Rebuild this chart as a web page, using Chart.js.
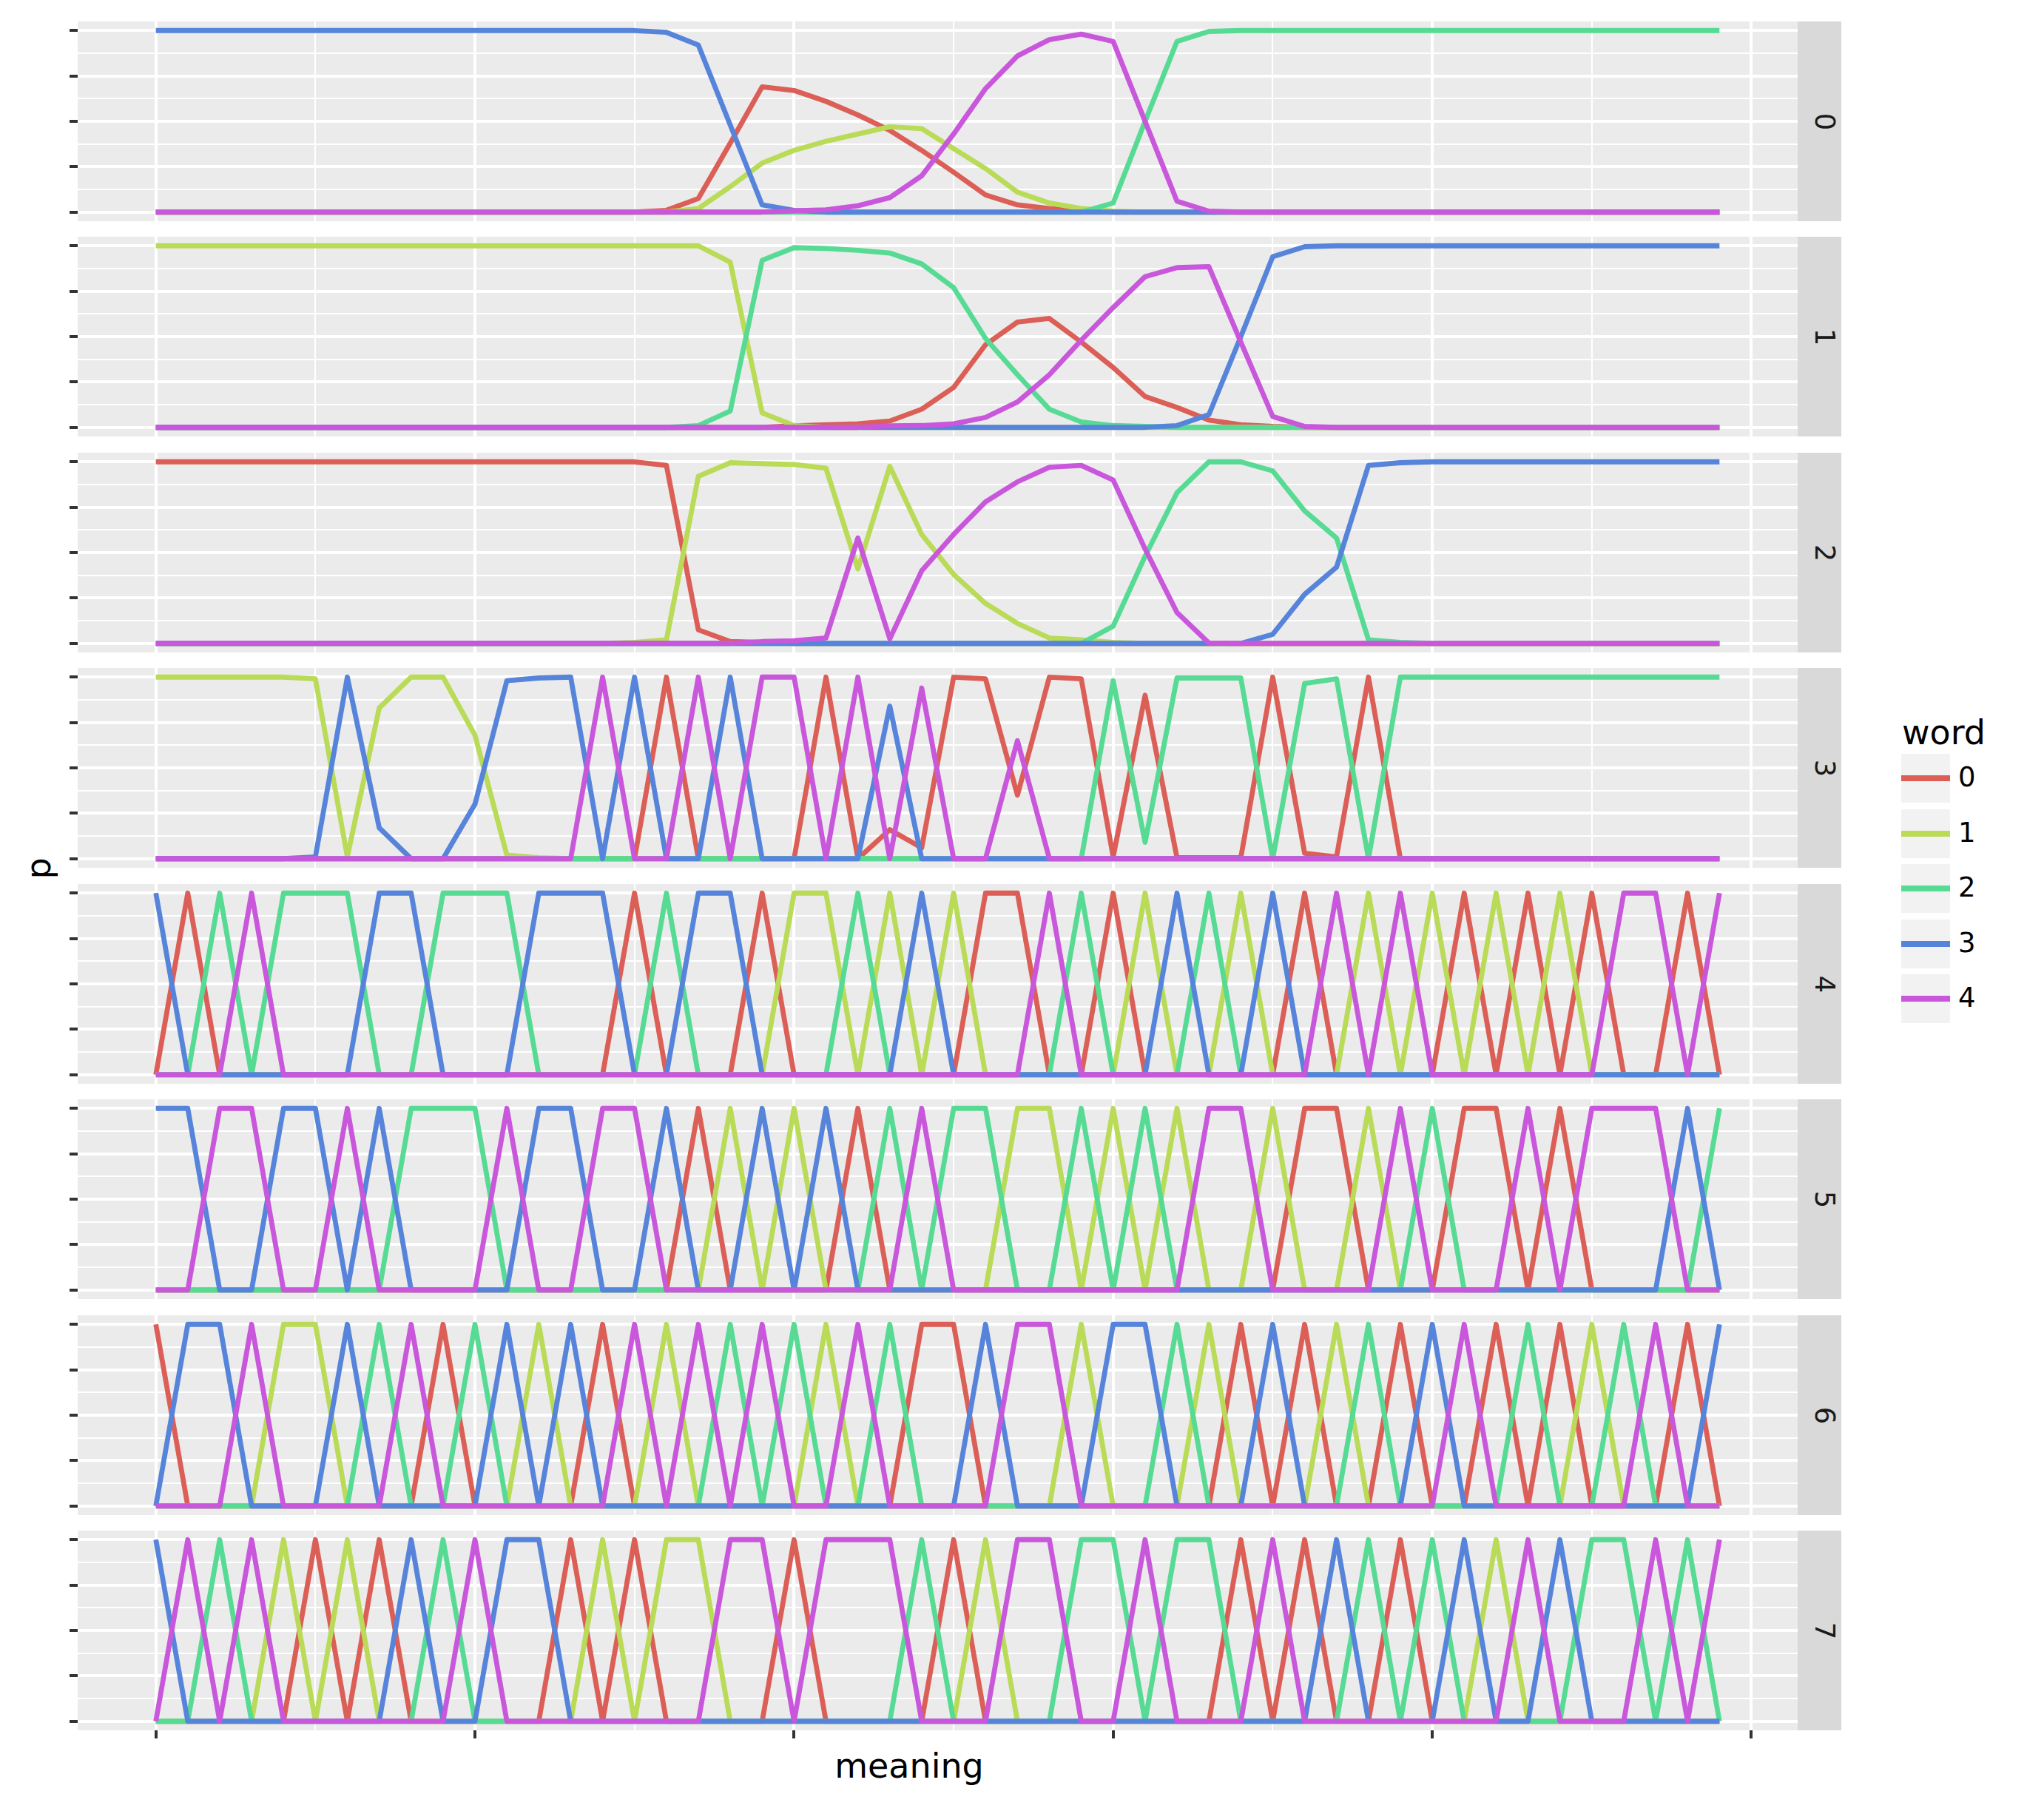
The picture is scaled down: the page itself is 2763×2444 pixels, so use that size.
<!DOCTYPE html>
<html>
<head>
<meta charset="utf-8">
<script src="https://cdn.jsdelivr.net/npm/chart.js@4.4.1/dist/chart.umd.min.js"></script>
<style>
html,body{margin:0;padding:0;background:#ffffff;}
body{width:2763px;height:2444px;position:relative;overflow:hidden;font-family:'DejaVu Sans',sans-serif;}
.abs{position:absolute;white-space:nowrap;}
.panel canvas{display:block;}
.strip{position:absolute;background:#D9D9D9;}
.striptext{position:absolute;width:100px;height:37px;line-height:37px;font-size:37px;text-align:center;color:#1A1A1A;transform:rotate(90deg);}
.title{font-size:46px;line-height:46px;color:#000;}
.legkey{position:absolute;width:66px;height:66px;background:#F2F2F2;}
.legline{position:absolute;left:0;width:66px;height:8px;top:29px;}
.leglabel{position:absolute;font-size:37px;line-height:37px;color:#000;white-space:nowrap;}
</style>
</head>
<body>
<script>
// ---------------- DATA ----------------
const meaning = [0,1,2,3,4,5,6,7,8,9,10,11,12,13,14,15,16,17,18,19,20,21,22,23,24,25,26,27,28,29,30,31,32,33,34,35,36,37,38,39,40,41,42,43,44,45,46,47,48,49];
const words = ['0','1','2','3','4'];
const facets = ['0','1','2','3','4','5','6','7'];
const xTicks = [0,5,10,15,20,25,30,35,40,45,50];
const yTicks = [0,0.125,0.25,0.375,0.5,0.625,0.75,0.875,1];
const xTitle = 'meaning';
const yTitle = 'p';
const legendTitle = 'word';

// facet 0
const f0w0 = [0,0,0,0,0,0,0,0,0,0, 0,0,0,0,0,0,0.01,0.075,0.38,0.69, 0.67,0.61,0.535,0.45,0.34,0.22,0.095,0.04,0.02,0.005, 0,0,0,0,0,0,0,0,0,0, 0,0,0,0,0,0,0,0,0,0];
const f0w1 = [0,0,0,0,0,0,0,0,0,0, 0,0,0,0,0,0,0,0.02,0.14,0.27, 0.34,0.39,0.43,0.47,0.46,0.35,0.24,0.11,0.05,0.02, 0.005,0,0,0,0,0,0,0,0,0, 0,0,0,0,0,0,0,0,0,0];
const f0w2 = [0,0,0,0,0,0,0,0,0,0, 0,0,0,0,0,0,0,0,0,0, 0,0,0,0,0,0,0,0,0,0, 0.05,0.5,0.94,0.995,1,1,1,1,1,1, 1,1,1,1,1,1,1,1,1,1];
const f0w3 = [1,1,1,1,1,1,1,1,1,1, 1,1,1,1,1,1,0.99,0.92,0.48,0.04, 0.01,0,0,0,0,0,0,0,0,0, 0,0,0,0,0,0,0,0,0,0, 0,0,0,0,0,0,0,0,0,0];
const f0w4 = [0,0,0,0,0,0,0,0,0,0, 0,0,0,0,0,0,0,0,0,0, 0.007,0.013,0.035,0.08,0.2,0.43,0.68,0.86,0.95,0.98, 0.94,0.5,0.06,0.005,0,0,0,0,0,0, 0,0,0,0,0,0,0,0,0,0];
// facet 1
const f1w0 = [0,0,0,0,0,0,0,0,0,0, 0,0,0,0,0,0,0,0,0,0, 0.008,0.015,0.02,0.035,0.1,0.22,0.455,0.58,0.6,0.47, 0.33,0.17,0.11,0.04,0.015,0.005,0,0,0,0, 0,0,0,0,0,0,0,0,0,0];
const f1w1 = [1,1,1,1,1,1,1,1,1,1, 1,1,1,1,1,1,1,1,0.91,0.08, 0.01,0,0,0,0,0,0,0,0,0, 0,0,0,0,0,0,0,0,0,0, 0,0,0,0,0,0,0,0,0,0];
const f1w2 = [0,0,0,0,0,0,0,0,0,0, 0,0,0,0,0,0,0,0.01,0.09,0.92, 0.99,0.985,0.975,0.96,0.9,0.77,0.49,0.29,0.1,0.03, 0.01,0.005,0,0,0,0,0,0,0,0, 0,0,0,0,0,0,0,0,0,0];
const f1w3 = [0,0,0,0,0,0,0,0,0,0, 0,0,0,0,0,0,0,0,0,0, 0,0,0,0,0,0,0,0,0,0, 0,0,0.01,0.07,0.5,0.94,0.995,1,1,1, 1,1,1,1,1,1,1,1,1,1];
const f1w4 = [0,0,0,0,0,0,0,0,0,0, 0,0,0,0,0,0,0,0,0,0, 0,0,0,0.008,0.01,0.02,0.055,0.14,0.29,0.48, 0.66,0.83,0.88,0.885,0.47,0.06,0.005,0,0,0, 0,0,0,0,0,0,0,0,0,0];
// facet 2
const f2w0 = [1,1,1,1,1,1,1,1,1,1, 1,1,1,1,1,1,0.98,0.075,0.01,0.005, 0,0,0,0,0,0,0,0,0,0, 0,0,0,0,0,0,0,0,0,0, 0,0,0,0,0,0,0,0,0,0];
const f2w1 = [0,0,0,0,0,0,0,0,0,0, 0,0,0,0,0,0.005,0.02,0.92,0.995,0.99, 0.985,0.965,0.41,0.975,0.6,0.38,0.22,0.11,0.03,0.02, 0.005,0,0,0,0,0,0,0,0,0, 0,0,0,0,0,0,0,0,0,0];
const f2w2 = [0,0,0,0,0,0,0,0,0,0, 0,0,0,0,0,0,0,0,0,0, 0,0,0,0,0,0,0,0,0,0, 0.095,0.48,0.83,1,1,0.95,0.73,0.58,0.02,0.005, 0,0,0,0,0,0,0,0,0,0];
const f2w3 = [0,0,0,0,0,0,0,0,0,0, 0,0,0,0,0,0,0,0,0,0, 0,0,0,0,0,0,0,0,0,0, 0,0,0,0,0,0.05,0.27,0.42,0.98,0.995, 1,1,1,1,1,1,1,1,1,1];
const f2w4 = [0,0,0,0,0,0,0,0,0,0, 0,0,0,0,0,0,0,0,0,0.01, 0.015,0.03,0.58,0.025,0.4,0.6,0.78,0.89,0.97,0.98, 0.9,0.52,0.17,0.002,0,0,0,0,0,0, 0,0,0,0,0,0,0,0,0,0];
// facet 3
const f3w0 = [0,0,0,0,0,0,0,0,0,0, 0,0,0,0,0,0,1,0,0,0, 0,1,0,0.16,0.06,1,0.99,0.35,1,0.99, 0.01,0.9,0.005,0.005,0.005,1,0.03,0.01,1,0, 0,0,0,0,0,0,0,0,0,0];
const f3w1 = [1,1,1,1,1,0.99,0.01,0.83,1,1, 0.68,0.02,0.005,0,0,0,0,0,0,0, 0,0,0,0,0,0,0,0,0,0, 0,0,0,0,0,0,0,0,0,0, 0,0,0,0,0,0,0,0,0,0];
const f3w2 = [0,0,0,0,0,0,0,0,0,0, 0,0,0,0,0,0,0,0,0,0, 0,0,0,0,0,0,0,0,0,0, 0.98,0.09,0.995,0.995,0.995,0,0.965,0.99,0,1, 1,1,1,1,1,1,1,1,1,1];
const f3w3 = [0,0,0,0,0,0.01,1,0.17,0,0, 0.3,0.98,0.995,1,0,1,0,0,1,0, 0,0,0,0.84,0,0,0,0,0,0, 0,0,0,0,0,0,0,0,0,0, 0,0,0,0,0,0,0,0,0,0];
const f3w4 = [0,0,0,0,0,0,0,0,0,0, 0,0,0,0,1,0,0,1,0,1, 1,0,1,0,0.94,0,0,0.65,0,0, 0,0,0,0,0,0,0,0,0,0, 0,0,0,0,0,0,0,0,0,0];
// facets 4-7: the word with p = 1 at each meaning (all other words 0)
const facet4Top = [3,0,2,4,2,2,2,3,3,2, 2,2,3,3,3,0,2,3,3,0, 1,1,2,1,3,1,0,0,4,2, 0,1,3,2,1,3,0,4,1,4, 1,0,1,0,1,0,4,4,0,4];
const facet5Top = [3,3,4,4,3,3,4,3,2,2, 2,4,3,3,4,4,3,0,1,3, 1,3,0,2,4,2,2,1,1,2, 1,2,1,4,4,1,0,0,1,4, 2,0,0,4,0,4,4,4,3,2];
const facet6Top = [0,3,3,4,1,1,3,2,4,0, 2,3,1,3,0,4,1,4,2,4, 2,1,4,2,0,0,3,4,4,1, 3,3,2,1,0,3,0,1,2,0, 3,4,0,2,0,1,2,4,0,3];
const facet7Top = [3,4,2,4,1,0,1,0,3,2, 4,3,3,0,1,0,1,1,4,4, 0,4,4,4,2,0,1,4,4,2, 2,4,2,2,0,4,0,3,2,0, 2,3,1,4,3,2,2,4,2,4];

function oneHot(top) { return words.map((w, wi) => top.map(t => (t === wi ? 1 : 0))); }
const facetSeries = [
  [f0w0, f0w1, f0w2, f0w3, f0w4],
  [f1w0, f1w1, f1w2, f1w3, f1w4],
  [f2w0, f2w1, f2w2, f2w3, f2w4],
  [f3w0, f3w1, f3w2, f3w3, f3w4],
  oneHot(facet4Top), oneHot(facet5Top), oneHot(facet6Top), oneHot(facet7Top)
];

// ---------------- STYLE / LAYOUT ----------------
const COLORS = ['#db5f57', '#b9db57', '#57db94', '#5784db', '#c957db'];
const LAY = { left: 105, right: 2430, top0: 29, step: 291.43, h: 270, tick: 11, stripW: 59 };
const LINE_W = 6.8;

const bgPlugin = {
  id: 'panelBg',
  beforeDraw(chart) {
    const a = chart.chartArea, ctx = chart.ctx;
    ctx.save();
    ctx.fillStyle = '#EBEBEB';
    ctx.fillRect(a.left, a.top, a.right - a.left, a.bottom - a.top);
    ctx.restore();
  }
};

const isMajorX = v => Math.abs(v / 10 - Math.round(v / 10)) < 1e-9;
const isMajorY = v => Math.abs(v * 4 - Math.round(v * 4)) < 1e-9;

facets.forEach((fl, k) => {
  const top = Math.round(LAY.top0 + LAY.step * k);
  const last = k === facets.length - 1;
  const W = (LAY.right - LAY.left) + LAY.tick;
  const H = LAY.h + (last ? LAY.tick : 0);
  const wrap = document.createElement('div');
  wrap.className = 'panel abs';
  wrap.style.left = (LAY.left - LAY.tick) + 'px';
  wrap.style.top = top + 'px';
  wrap.style.width = W + 'px';
  wrap.style.height = H + 'px';
  const cv = document.createElement('canvas');
  cv.width = W; cv.height = H;
  cv.style.width = W + 'px'; cv.style.height = H + 'px';
  wrap.appendChild(cv);
  document.body.appendChild(wrap);

  const datasets = words.map((w, wi) => ({
    label: w,
    data: meaning.map((m, i) => ({ x: m, y: facetSeries[k][wi][i] })),
    borderColor: COLORS[wi],
    backgroundColor: COLORS[wi],
    borderWidth: LINE_W,
    pointRadius: 0,
    tension: 0,
    fill: false,
    borderJoinStyle: 'round',
    borderCapStyle: 'butt',
    order: words.length - 1 - wi
  }));

  new Chart(cv, {
    type: 'line',
    data: { datasets },
    options: {
      responsive: false,
      animation: false,
      devicePixelRatio: 1,
      events: [],
      layout: { padding: 0 },
      plugins: { legend: { display: false }, tooltip: { enabled: false } },
      scales: {
        x: {
          type: 'linear', min: -2.45, max: 51.45, bounds: 'data',
          afterBuildTicks: s => { s.ticks = xTicks.map(v => ({ value: v })); },
          afterFit: s => { s.height = last ? LAY.tick : 0; },
          ticks: { display: false, autoSkip: false },
          border: { display: false },
          grid: {
            color: '#FFFFFF',
            lineWidth: c => (isMajorX(c.tick.value) ? 4 : 2),
            drawTicks: last,
            tickLength: LAY.tick,
            tickWidth: 4,
            tickColor: c => (isMajorX(c.tick.value) ? '#333333' : 'rgba(0,0,0,0)')
          }
        },
        y: {
          type: 'linear', min: -0.05, max: 1.05, bounds: 'data',
          afterBuildTicks: s => { s.ticks = yTicks.map(v => ({ value: v })); },
          afterFit: s => { s.width = LAY.tick; },
          ticks: { display: false, autoSkip: false },
          border: { display: false },
          grid: {
            color: '#FFFFFF',
            lineWidth: c => (isMajorY(c.tick.value) ? 4 : 2),
            drawTicks: true,
            tickLength: LAY.tick,
            tickWidth: 4,
            tickColor: c => (isMajorY(c.tick.value) ? '#333333' : 'rgba(0,0,0,0)')
          }
        }
      }
    },
    plugins: [bgPlugin]
  });

  // facet strip
  const strip = document.createElement('div');
  strip.className = 'strip';
  strip.style.left = LAY.right + 'px';
  strip.style.top = top + 'px';
  strip.style.width = LAY.stripW + 'px';
  strip.style.height = LAY.h + 'px';
  document.body.appendChild(strip);
  const st = document.createElement('div');
  st.className = 'striptext';
  st.textContent = fl;
  st.style.left = (2466 - 50) + 'px';
  st.style.top = (top + LAY.h / 2 - 18.5) + 'px';
  document.body.appendChild(st);
});

// axis titles
const xt = document.createElement('div');
xt.className = 'abs title';
xt.style.left = (1229 - 200) + 'px'; xt.style.width = '400px'; xt.style.textAlign = 'center';
xt.style.top = '2364px';
xt.textContent = xTitle;
document.body.appendChild(xt);

const yt = document.createElement('div');
yt.className = 'abs title';
yt.style.width = '100px'; yt.style.height = '46px'; yt.style.textAlign = 'center';
yt.style.left = (52.4 - 50) + 'px'; yt.style.top = (1174 - 23) + 'px';
yt.style.transform = 'rotate(-90deg)';
yt.textContent = yTitle;
document.body.appendChild(yt);

// legend
const lt = document.createElement('div');
lt.className = 'abs title';
lt.style.left = '2571px'; lt.style.top = '967px';
lt.textContent = legendTitle;
document.body.appendChild(lt);

const keyTops = [1019, 1094, 1168, 1243, 1317];
words.forEach((w, wi) => {
  const key = document.createElement('div');
  key.className = 'legkey';
  key.style.left = '2570px';
  key.style.top = keyTops[wi] + 'px';
  const ln = document.createElement('div');
  ln.className = 'legline';
  ln.style.background = COLORS[wi];
  key.appendChild(ln);
  document.body.appendChild(key);
  const lab = document.createElement('div');
  lab.className = 'leglabel';
  lab.style.left = '2647px';
  lab.style.top = (keyTops[wi] + 13.2) + 'px';
  lab.textContent = w;
  document.body.appendChild(lab);
});
</script>
</body>
</html>
